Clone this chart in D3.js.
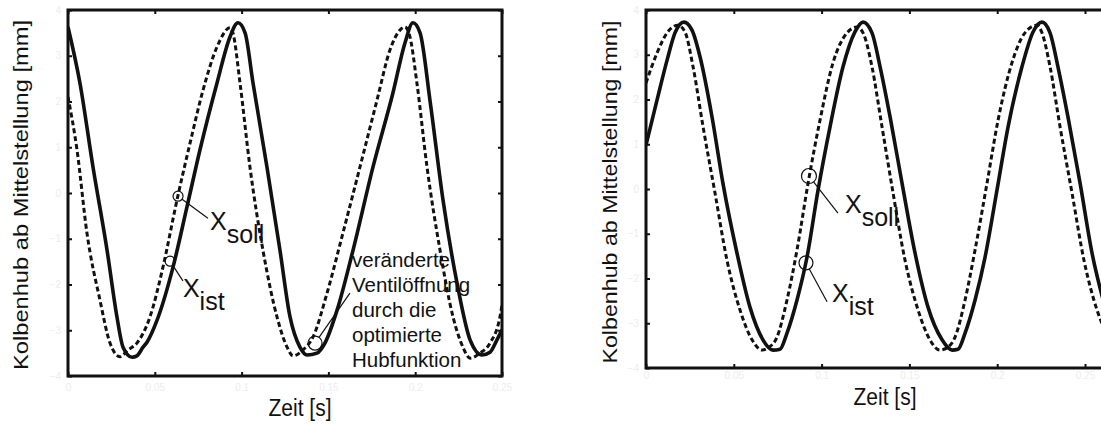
<!DOCTYPE html>
<html>
<head>
  <meta charset="utf-8">
  <title>Kolbenhub</title>
  <script src="https://d3js.org/d3.v7.min.js"></script>
  <style>
    body { margin: 0; background: #fff; }
    svg { font-family: "Liberation Sans", Arial, sans-serif; }
  </style>
</head>
<body>
<script>
  // time [s] and stroke [mm]
  const xTicks = [0, 0.05, 0.1, 0.15, 0.2, 0.25];
  const yTicks = [-4, -3, -2, -1, 0, 1, 2, 3, 4];

  // left panel, x_ist (solid)
  const leftIstT = [0, 0.0069, 0.0144, 0.0225, 0.0282, 0.0317, 0.0369, 0.0397, 0.0432, 0.0455, 0.0513, 0.0605, 0.0685, 0.0760, 0.0858, 0.0933, 0.0979, 0.1020, 0.1066, 0.1146, 0.1221, 0.1279, 0.1336, 0.1377, 0.1434, 0.1480, 0.1550, 0.1642, 0.1757, 0.1872, 0.1941, 0.1987, 0.2028, 0.2085, 0.2160, 0.2241, 0.2316, 0.2385, 0.2431, 0.2471, 0.25];
  const leftIstV = [3.63, 2.40, 0.57, -1.25, -2.71, -3.37, -3.59, -3.56, -3.37, -3.26, -2.78, -1.62, -0.31, 0.94, 2.40, 3.41, 3.72, 3.50, 2.40, 0.57, -1.25, -2.71, -3.37, -3.54, -3.50, -3.28, -2.56, -1.25, 0.57, 2.19, 3.28, 3.72, 3.50, 2.03, -0.15, -1.97, -3.21, -3.54, -3.48, -3.21, -2.99];

  // left panel, x_soll (dashed)
  const leftSollT = [0, 0.0052, 0.0109, 0.0184, 0.0242, 0.0300, 0.0346, 0.0397, 0.0472, 0.0547, 0.0628, 0.0703, 0.0778, 0.0858, 0.0933, 0.0950, 0.0991, 0.1048, 0.1123, 0.1204, 0.1262, 0.1296, 0.1354, 0.1411, 0.1492, 0.1584, 0.1682, 0.1780, 0.1855, 0.1912, 0.1941, 0.1970, 0.2010, 0.2068, 0.2143, 0.2218, 0.2275, 0.2316, 0.2373, 0.2431, 0.2488, 0.25];
  const leftSollV = [2.10, 0.94, -0.87, -2.34, -3.28, -3.58, -3.43, -3.28, -2.71, -1.62, -0.15, 1.09, 2.25, 3.19, 3.61, 3.50, 2.40, 0.57, -1.25, -2.71, -3.37, -3.56, -3.43, -3.15, -2.19, -0.87, 0.57, 2.03, 3.13, 3.56, 3.63, 3.41, 2.40, 0.57, -1.25, -2.71, -3.37, -3.61, -3.50, -3.28, -2.71, -2.45];

  // right panel, x_ist (solid)
  const rightIstT = [0, 0.0063, 0.0120, 0.0165, 0.0216, 0.0262, 0.0308, 0.0376, 0.0438, 0.0518, 0.0592, 0.0666, 0.0723, 0.0763, 0.0803, 0.0860, 0.0917, 0.0980, 0.1048, 0.1122, 0.1190, 0.1236, 0.1287, 0.1333, 0.1390, 0.1458, 0.1532, 0.1606, 0.1686, 0.1743, 0.1777, 0.1817, 0.1874, 0.1931, 0.1999, 0.2062, 0.2141, 0.2204, 0.2255, 0.2301, 0.2346, 0.2403, 0.2472, 0.2540, 0.2614];
  const rightIstV = [0.98, 1.99, 2.88, 3.49, 3.73, 3.55, 2.95, 1.61, 0.13, -1.43, -2.64, -3.37, -3.60, -3.58, -3.22, -2.48, -1.52, -0.02, 1.39, 2.73, 3.51, 3.73, 3.49, 2.73, 1.61, 0.13, -1.43, -2.64, -3.37, -3.60, -3.58, -3.22, -2.48, -1.52, -0.02, 1.39, 2.73, 3.51, 3.73, 3.49, 2.73, 1.61, 0.13, -1.43, -2.64];

  // right panel, x_soll (dashed)
  const rightSollT = [0, 0.0063, 0.0120, 0.0182, 0.0222, 0.0268, 0.0325, 0.0393, 0.0461, 0.0535, 0.0604, 0.0661, 0.0695, 0.0746, 0.0803, 0.0860, 0.0923, 0.0991, 0.1065, 0.1145, 0.1202, 0.1236, 0.1287, 0.1344, 0.1407, 0.1475, 0.1549, 0.1617, 0.1674, 0.1714, 0.1760, 0.1817, 0.1874, 0.1942, 0.2005, 0.2084, 0.2158, 0.2227, 0.2255, 0.2301, 0.2358, 0.2426, 0.2494, 0.2568, 0.2642];
  const rightSollV = [2.37, 3.04, 3.49, 3.66, 3.51, 2.73, 1.39, -0.09, -1.59, -2.70, -3.37, -3.60, -3.55, -3.31, -2.48, -1.36, 0.13, 1.54, 2.82, 3.49, 3.62, 3.49, 2.73, 1.39, -0.09, -1.59, -2.70, -3.37, -3.60, -3.55, -3.31, -2.48, -1.36, 0.13, 1.54, 2.82, 3.49, 3.66, 3.49, 2.73, 1.39, -0.09, -1.59, -2.70, -3.37];

  // annotations: circle centre, end of leader, label start (data units)
  const leftNotes = [
    {c: [0.0634, -0.07], r: 5, end: [0.0806, -0.55], at: [0.0818, -0.81], sub: "soll"},
    {c: [0.0588, -1.49], r: 5, end: [0.0662, -1.92], at: [0.0662, -2.27], sub: "ist"}
  ];
  const rightNotes = [
    {c: [0.0928, 0.29], r: 7.5, end: [0.1093, -0.54], at: [0.1133, -0.54], sub: "soll"},
    {c: [0.0911, -1.65], r: 7, end: [0.1031, -2.52], at: [0.1059, -2.52], sub: "ist"}
  ];
  const noteLines = ["veränderte", "Ventilöffnung", "durch die", "optimierte", "Hubfunktion"];
  const noteCircle = {c: [0.1423, -3.28], r: 7, end: [0.1624, -2.19], at: [0.1636, -1.62]};

  const W = 1101, H = 425;
  const svg = d3.select("body").append("svg").attr("width", W).attr("height", H);

  const zip = (t, v) => t.map((d, i) => [d, v[i]]);

  function panel(o) {
    const x = d3.scaleLinear().domain(o.xDomain).range([o.left, o.right]);
    const y = d3.scaleLinear().domain([-4, 4]).range([o.bottom, o.top]);
    const g = svg.append("g");
    const fmt = d => String(+d.toFixed(2));

    const clipId = "clip" + o.id;
    g.append("clipPath").attr("id", clipId).append("rect")
      .attr("x", o.left).attr("y", o.top).attr("width", o.right - o.left).attr("height", o.bottom - o.top);

    // axes, ticks inward on all four sides; the labels are barely visible in the scan
    g.append("g").attr("transform", `translate(0,${o.bottom})`)
      .call(d3.axisBottom(x).tickValues(xTicks).tickFormat(fmt).tickSizeInner(-4).tickSizeOuter(0).tickPadding(o.xPad));
    g.append("g").attr("transform", `translate(0,${o.top})`)
      .call(d3.axisTop(x).tickValues(xTicks).tickFormat("").tickSizeInner(-4).tickSizeOuter(0));
    g.append("g").attr("transform", `translate(${o.left},0)`)
      .call(d3.axisLeft(y).tickValues(yTicks).tickSizeInner(-4).tickSizeOuter(0).tickPadding(7));
    g.append("g").attr("transform", `translate(${o.right},0)`)
      .call(d3.axisRight(y).tickValues(yTicks).tickFormat("").tickSizeInner(-4).tickSizeOuter(0));
    g.selectAll(".domain").remove();
    g.selectAll(".tick line").attr("stroke", "#111").attr("stroke-width", 2);
    g.selectAll(".tick text").attr("fill", "#ededed").attr("font-size", 10);

    const line = d3.line().x(d => x(d[0])).y(d => y(d[1])).curve(d3.curveMonotoneX);
    const lines = g.append("g").attr("clip-path", `url(#${clipId})`).attr("fill", "none").attr("stroke", "#111");
    lines.append("path").datum(o.soll).attr("d", line)
      .attr("stroke-width", 3).attr("stroke-dasharray", "5,3");
    lines.append("path").datum(o.ist).attr("d", line)
      .attr("stroke-width", 3.6).attr("stroke-linejoin", "round");

    g.append("rect")
      .attr("x", o.left).attr("y", o.top).attr("width", o.right - o.left).attr("height", o.bottom - o.top)
      .attr("fill", "none").attr("stroke", "#111").attr("stroke-width", 3);

    // axis titles
    g.append("text")
      .attr("transform", `translate(${o.yLabel[0]},${o.yLabel[1]}) rotate(-90)`)
      .attr("text-anchor", "middle").attr("font-size", 21).attr("fill", "#111")
      .attr("textLength", o.yLabelLen).attr("lengthAdjust", "spacingAndGlyphs")
      .text("Kolbenhub ab Mittelstellung [mm]");
    g.append("text")
      .attr("transform", `translate(${o.xLabel[0]},${o.xLabel[1]}) scale(1,1.12)`)
      .attr("text-anchor", "middle").attr("font-size", 21).attr("fill", "#111")
      .text("Zeit [s]");

    // circled markers with X labels
    const circ = (n, withText) => {
      const cx = x(n.c[0]), cy = y(n.c[1]), ex = x(n.end[0]), ey = y(n.end[1]);
      const len = Math.hypot(ex - cx, ey - cy);
      g.append("circle").attr("cx", cx).attr("cy", cy).attr("r", n.r)
        .attr("fill", "none").attr("stroke", "#111").attr("stroke-width", 1.2);
      g.append("line")
        .attr("x1", cx + (ex - cx) / len * n.r).attr("y1", cy + (ey - cy) / len * n.r)
        .attr("x2", ex).attr("y2", ey)
        .attr("stroke", "#111").attr("stroke-width", 1.2);
      if (withText) {
        const t = g.append("text").attr("x", x(n.at[0])).attr("y", y(n.at[1]))
          .attr("font-size", 25).attr("fill", "#111");
        t.append("tspan").text("X");
        t.append("tspan").attr("dy", 13).text(n.sub);
      }
    };
    o.notes.forEach(n => circ(n, true));
    if (o.extra) {
      circ(o.extra, false);
      g.append("g").selectAll("text").data(noteLines).join("text")
        .attr("x", x(o.extra.at[0]))
        .attr("y", (d, i) => y(o.extra.at[1]) + i * 25)
        .attr("font-size", 20.5).attr("fill", "#111")
        .text(d => d);
    }
  }

  panel({
    id: "L", xDomain: [0, 0.25], left: 68, right: 502, top: 10, bottom: 376, xPad: 8,
    ist: zip(leftIstT, leftIstV), soll: zip(leftSollT, leftSollV),
    yLabel: [28, 195], yLabelLen: 350, xLabel: [300, 416],
    notes: leftNotes, extra: noteCircle
  });

  panel({
    id: "R", xDomain: [0, 0.3], left: 646, right: 646 + 0.3 * 1756, top: 10, bottom: 368, xPad: 4,
    ist: zip(rightIstT, rightIstV), soll: zip(rightSollT, rightSollV),
    yLabel: [617, 192], yLabelLen: 343, xLabel: [885, 405],
    notes: rightNotes
  });
</script>
</body>
</html>
